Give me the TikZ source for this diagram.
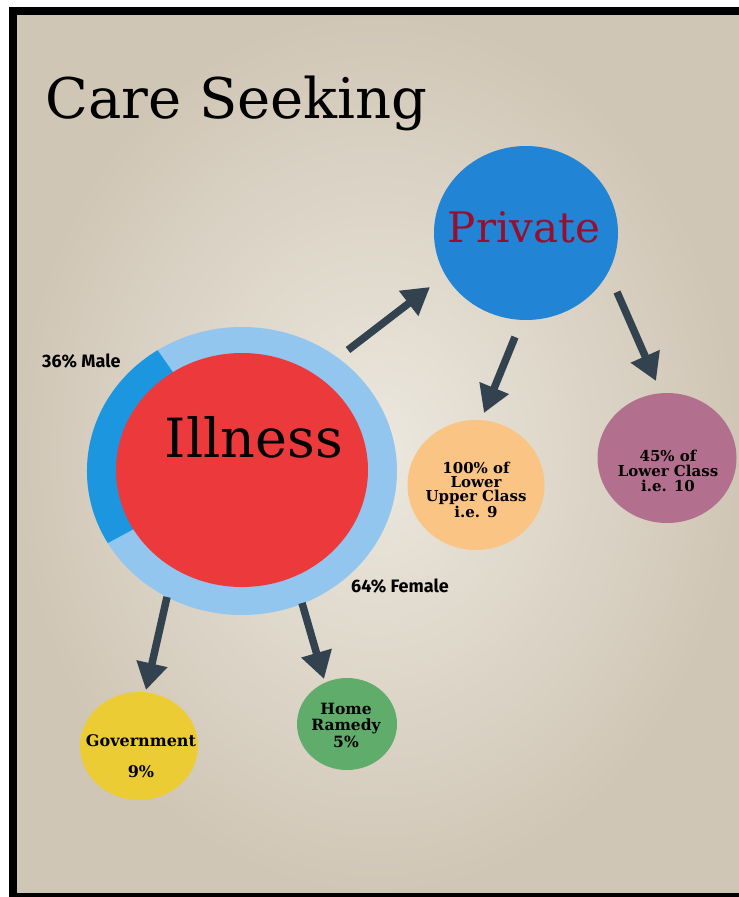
\documentclass[tikz,border=0pt]{standalone}
\usepackage{fontspec}
\setmainfont{DejaVu Serif}
\newfontfamily\labfont{Fira Sans}
\usetikzlibrary{arrows.meta,shapes.geometric}
\definecolor{bgA}{RGB}{236,232,222}
\definecolor{bgB}{RGB}{208,198,182}
\definecolor{privblue}{RGB}{33,132,212}
\definecolor{ringlight}{RGB}{146,198,238}
\definecolor{ringdark}{RGB}{28,150,222}
\definecolor{illred}{RGB}{236,58,60}
\definecolor{privtext}{RGB}{150,15,45}
\definecolor{orangec}{RGB}{250,197,132}
\definecolor{mauvec}{RGB}{178,112,142}
\definecolor{yellowc}{RGB}{236,204,52}
\definecolor{greenc}{RGB}{96,172,106}
\definecolor{arrowc}{RGB}{50,66,78}
\tikzset{
  blob/.style={ellipse, inner sep=0pt, draw=none},
  smalltext/.style={font=\bfseries\fontsize{15}{14}\selectfont, align=center, text=black},
  pctlabel/.style={font=\labfont\bfseries\fontsize{18}{18}\selectfont, text=black, inner sep=0pt},
  arr/.style={draw=arrowc, line width=7.5pt, -{Triangle[length=27pt,width=30pt]}},
}
\begin{document}
\begin{tikzpicture}[x=1pt,y=-1pt]
\useasboundingbox (0,0) rectangle (739,897);
% background
\shade[inner color=bgA, outer color=bgB] (13,11) rectangle (739,895);
% frame
\draw[line width=8pt, black] (13,11) rectangle (748,897);
% title
\node[anchor=base west, inner sep=0pt, font=\fontsize{56}{56}\selectfont] (title) at (45,118) {Care Seeking};
% Private
\node[blob, fill=privblue, minimum width=184pt, minimum height=174pt] (priv) at (526,233) {};
\node[anchor=base, inner sep=0pt, text=privtext, font=\fontsize{42}{42}\selectfont] (privtxt) at (524,242) {Private};
% Illness ring
\node[blob, fill=ringlight, minimum width=310pt, minimum height=288pt] (ring) at (242,471) {};
\fill[ringdark] (242,471) -- ++(123:155pt and 144pt) arc[start angle=123,end angle=210,x radius=155pt,y radius=144pt] -- cycle;
\node[blob, fill=illred, minimum width=252pt, minimum height=234pt] (ill) at (242,470) {};
\node[anchor=base, inner sep=0pt, font=\fontsize{54}{54}\selectfont] (illtxt) at (254,457) {Illness};
% labels
\node[pctlabel, anchor=base west] (male) at (42,367) {36\% Male};
\node[pctlabel, anchor=base west] (female) at (351,592) {64\% Female};
% small circles
\node[blob, fill=orangec, minimum width=137pt, minimum height=130pt] (orange) at (476,485) {};
\node[smalltext] (orangetxt) at (476,490) {100\% of\\Lower\\Upper Class\\i.e. 9};
\node[blob, fill=mauvec, minimum width=139pt, minimum height=130pt] (mauve) at (667,458) {};
\node[smalltext, font=\bfseries\fontsize{15}{15}\selectfont] (mauvetxt) at (668,471) {45\% of\\Lower Class\\i.e. 10};
\node[blob, fill=yellowc, minimum width=118pt, minimum height=108pt] (gov) at (139,746) {};
\node[smalltext, font=\bfseries\fontsize{16}{31}\selectfont] (govtxt) at (141,756) {Government\\9\%};
\node[blob, fill=greenc, minimum width=100pt, minimum height=92pt] (home) at (347,724) {};
\node[smalltext, font=\bfseries\fontsize{15.5}{16.5}\selectfont] (hometxt) at (346,725) {Home\\Ramedy\\5\%};
% arrows
\coordinate (a1t) at (348,350); \coordinate (a1h) at (430,287);
\coordinate (a2t) at (515,337); \coordinate (a2h) at (484,413);
\coordinate (a3t) at (617,292); \coordinate (a3h) at (656,381);
\coordinate (a4t) at (167,597); \coordinate (a4h) at (146,690);
\coordinate (a5t) at (302,603); \coordinate (a5h) at (324,679);
\draw[arr] (a1t) -- (a1h);
\draw[arr] (a2t) -- (a2h);
\draw[arr] (a3t) -- (a3h);
\draw[arr] (a4t) -- (a4h);
\draw[arr] (a5t) -- (a5h);
\end{tikzpicture}
\end{document}
